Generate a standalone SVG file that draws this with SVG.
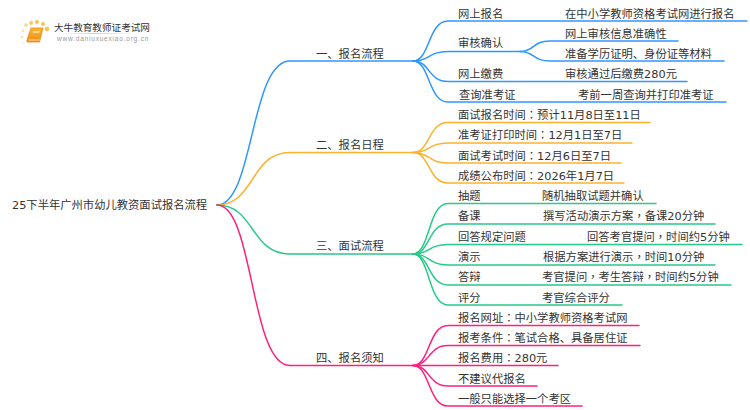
<svg xmlns="http://www.w3.org/2000/svg" width="750" height="410" viewBox="0 0 750 410">
<defs><linearGradient id="book" x1="0" y1="0" x2="0" y2="1"><stop offset="0" stop-color="#fbb62e"/><stop offset="1" stop-color="#f08a16"/></linearGradient>
<linearGradient id="rule" x1="0" y1="0" x2="1" y2="0"><stop offset="0" stop-color="#ddd" stop-opacity="0"/><stop offset="0.5" stop-color="#ccc"/><stop offset="1" stop-color="#ddd" stop-opacity="0"/></linearGradient></defs>
<style>
text{font-family:"DejaVu Sans","Noto Sans CJK SC",sans-serif;font-size:11.3px;fill:#333}
tspan.c{font-family:"Noto Sans CJK TC",sans-serif}
#connectors path{fill:none;stroke-width:1.5;stroke-linecap:round}
.b path{stroke:#2f96ff}.o path{stroke:#fdb12d}.g path{stroke:#28c98a}.p path{stroke:#ff1f7d}
</style>
<rect width="750" height="410" fill="#fff"/>
<g id="logo">
<circle cx="26" cy="25" r="1.8" fill="#fbd48a"/><circle cx="31" cy="23" r="2" fill="#fbc860"/><circle cx="37" cy="22" r="2.1" fill="#fbc34f"/><circle cx="43" cy="24" r="2" fill="#fbc34f"/><circle cx="47" cy="29" r="2.300" fill="#fbc34f"/><circle cx="23" cy="31" r="1.400" fill="#fde2ab"/><circle cx="22" cy="37" r="1.300" fill="#fde2ab"/><circle cx="23.500" cy="42.500" r="1" fill="#fdeccb"/>
<path d="M31 28L43 28L39.500 42L27.500 42Q26.500 42 27 40Z" fill="url(#book)" stroke="#ee8a18" stroke-width="0.800"/><path d="M28.500 39.600L40 39.600L39.500 40.600L28.500 40.600Z" fill="#fde3b0"/><path d="M33 31L40 31L39.500 33L32.500 33Z" fill="#fcd98f"/>
<text x="54" y="30.500" style="font-family:'Noto Sans CJK SC',sans-serif;font-size:9.600px">大牛教育教师证考试网</text>
<rect x="56" y="33" width="80" height="1" fill="url(#rule)"/>
<text x="57" y="41" style="font-family:'Liberation Sans',sans-serif;font-size:6.500px;letter-spacing:0.8px;fill:#999">www.daniuxuexiao.org.cn</text>
</g>
<g id="connectors">
<g class="b">
<path d="M217 205C254 205 250 61 290 61L413 61"/>
<path d="M413 61C430 61 428 21 448 21L747 21"/>
<path d="M413 61C430 61 428 51.500 448 51.500L520 51.500"/>
<path d="M520 51.500C535 51.500 532 41 550 41L678 41"/>
<path d="M520 51.500C535 51.500 532 61 550 61L724 61"/>
<path d="M413 61C430 61 428 81.500 448 81.500L687 81.500"/>
<path d="M413 61C430 61 428 102 448 102L726 102"/>
</g>
<g class="o">
<path d="M217 205C255 205 250 152.500 290 152.500L413 152.500"/>
<path d="M413 152.500C430 152.500 428 122.500 448 122.500L650 122.500"/>
<path d="M413 152.500C430 152.500 428 143 448 143L632 143"/>
<path d="M413 152.500C430 152.500 428 163 448 163L621 163"/>
<path d="M413 152.500C430 152.500 428 183 448 183L624 183"/>
</g>
<g class="g">
<path d="M217 205C255 205 250 254 290 254L413 254"/>
<path d="M413 254C430 254 428 203.500 448 203.500L656 203.500"/>
<path d="M413 254C430 254 428 224 448 224L715 224"/>
<path d="M413 254C430 254 428 244.500 448 244.500L742 244.500"/>
<path d="M413 254C430 254 428 265 448 265L715 265"/>
<path d="M413 254C430 254 428 285 448 285L731 285"/>
<path d="M413 254C430 254 428 305 448 305L622 305"/>
</g>
<g class="p">
<path d="M217 205C254 205 250 365.500 290 365.500L413 365.500"/>
<path d="M413 365.500C430 365.500 428 325.500 448 325.500L639 325.500"/>
<path d="M413 365.500C430 365.500 428 345.500 448 345.500L640 345.500"/>
<path d="M413 365.500L558 365.500"/>
<path d="M413 365.500C430 365.500 428 386 448 386L537 386"/>
<path d="M413 365.500C430 365.500 428 406 448 406L582 406"/>
</g>
</g>
<g id="root"><text x="12" y="209">25下半年广州市幼儿教资面试报名流程</text></g>
<g id="n1"><text x="316" y="58">一、报名流程</text></g>
<g id="n1-1"><text x="458" y="18">网上报名</text><text x="565" y="18">在中小学教师资格考试网进行报名</text></g>
<g id="n1-2"><text x="458" y="47">审核确认</text><text x="565" y="38">网上审核信息准确性</text><text x="565" y="58">准备学历证明、身份证等材料</text></g>
<g id="n1-3"><text x="458" y="78">网上缴费</text><text x="565" y="78">审核通过后缴费280元</text></g>
<g id="n1-4"><text x="459" y="99">查询准考证</text><text x="578" y="99">考前一周查询并打印准考证</text></g>
<g id="n2"><text x="316" y="149">二、报名日程</text></g>
<g id="n2-1"><text x="458" y="119">面试报名时间<tspan class="c">：</tspan>预计11月8日至11日</text></g>
<g id="n2-2"><text x="458" y="139">准考证打印时间<tspan class="c">：</tspan>12月1日至7日</text></g>
<g id="n2-3"><text x="458" y="159.500">面试考试时间<tspan class="c">：</tspan>12月6日至7日</text></g>
<g id="n2-4"><text x="458" y="180">成绩公布时间<tspan class="c">：</tspan>2026年1月7日</text></g>
<g id="n3"><text x="316" y="250">三、面试流程</text></g>
<g id="n3-1"><text x="458" y="200">抽题</text><text x="542" y="200">随机抽取试题并确认</text></g>
<g id="n3-2"><text x="458" y="220">备课</text><text x="543" y="220">撰写活动演示方案<tspan class="c">，</tspan>备课20分钟</text></g>
<g id="n3-3"><text x="458" y="241">回答规定问题</text><text x="587" y="241">回答考官提问<tspan class="c">，</tspan>时间约5分钟</text></g>
<g id="n3-4"><text x="458" y="261">演示</text><text x="543" y="261">根据方案进行演示<tspan class="c">，</tspan>时间10分钟</text></g>
<g id="n3-5"><text x="458" y="281">答辩</text><text x="542" y="281">考官提问<tspan class="c">，</tspan>考生答辩<tspan class="c">，</tspan>时间约5分钟</text></g>
<g id="n3-6"><text x="458" y="302">评分</text><text x="542" y="302">考官综合评分</text></g>
<g id="n4"><text x="316" y="362">四、报名须知</text></g>
<g id="n4-1"><text x="458" y="322">报名网址<tspan class="c">：</tspan>中小学教师资格考试网</text></g>
<g id="n4-2"><text x="458" y="342">报考条件<tspan class="c">：</tspan>笔试合格、具备居住证</text></g>
<g id="n4-3"><text x="458" y="362">报名费用<tspan class="c">：</tspan>280元</text></g>
<g id="n4-4"><text x="458" y="383">不建议代报名</text></g>
<g id="n4-5"><text x="458" y="403">一般只能选择一个考区</text></g>
</svg>
